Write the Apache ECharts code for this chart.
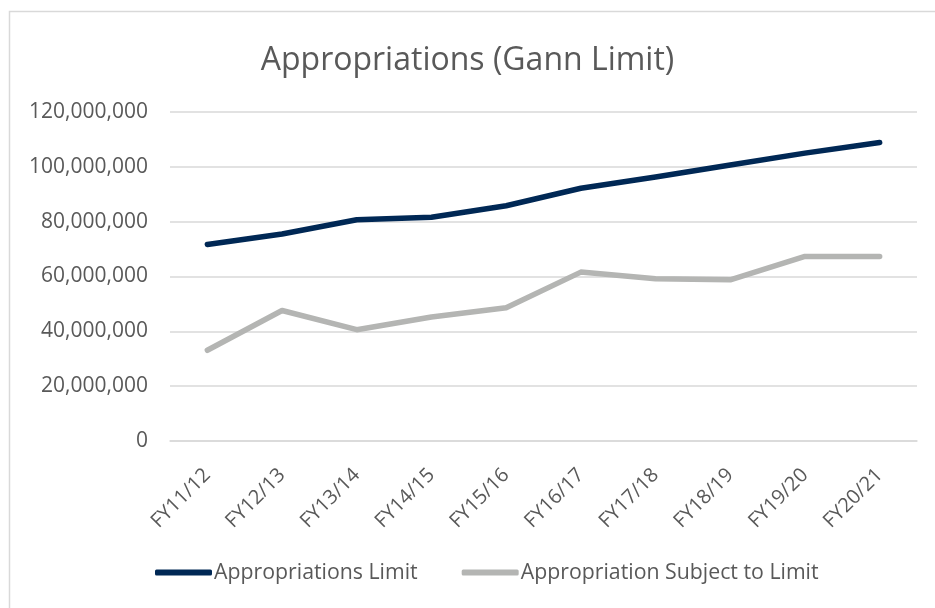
<!DOCTYPE html>
<html>
<head>
<meta charset="utf-8">
<title>Appropriations (Gann Limit)</title>
<script src="https://cdn.jsdelivr.net/npm/echarts@6/dist/echarts.min.js"></script>
<style>
  html, body { margin: 0; padding: 0; background: #fff; }
  #chart { width: 935px; height: 608px; }
</style>
</head>
<body>
<div id="chart"></div>
<script>
// fiscal years
const years = ['FY11/12', 'FY12/13', 'FY13/14', 'FY14/15', 'FY15/16',
  'FY16/17', 'FY17/18', 'FY18/19', 'FY19/20', 'FY20/21'];

// Appropriations Limit
const limitValues = [71700000, 75500000, 80700000, 81600000, 85800000,
  92200000, 96300000, 100700000, 105000000, 108900000];

// Appropriation Subject to Limit
const subjectValues = [33100000, 47600000, 40600000, 45200000, 48600000,
  61600000, 59200000, 58800000, 67300000, 67300000];

const font = '"Open Sans", "Noto Sans", sans-serif';
const textColor = '#595959';

const myChart = echarts.init(document.getElementById('chart'));
const option = {
  animation: false,
  // chart area border, like the excel frame
  graphic: [{
    type: 'rect',
    shape: { x: 9.5, y: 11.5, width: 1000, height: 700 },
    style: { fill: 'none', stroke: '#d9d9d9', lineWidth: 1.5 },
    silent: true,
  }],
  title: {
    text: 'Appropriations (Gann Limit)',
    left: 'center',
    top: 40,
    textStyle: { fontFamily: font, fontSize: 32, fontWeight: 'normal', color: textColor },
  },
  grid: {
    left: 170,
    right: 18,
    top: 112,
    bottom: 167,
  },
  legend: {
    bottom: 20,
    left: 150,
    itemWidth: 57,
    itemHeight: 6,
    itemGap: 44,
    icon: 'roundRect',
    textStyle: { fontFamily: font, fontSize: 21.3, color: textColor, padding: [0, 0, 0, -3] },
    data: ['Appropriations Limit', 'Appropriation Subject to Limit'],
  },
  xAxis: {
    type: 'category',
    data: years,
    boundaryGap: true,
    axisLine: { lineStyle: { color: '#d9d9d9', width: 1.5 } },
    axisTick: { show: false },
    axisLabel: {
      rotate: 45,
      interval: 0,
      margin: 31,
      padding: [18, 0, 0, 0],
      fontFamily: font,
      fontSize: 20,
      color: textColor,
    },
  },
  yAxis: {
    type: 'value',
    min: 0,
    max: 120000000,
    interval: 20000000,
    axisLine: { show: false },
    axisTick: { show: false },
    splitLine: { lineStyle: { color: '#d9d9d9', width: 1.5 } },
    axisLabel: {
      margin: 22,
      fontFamily: font,
      fontSize: 21,
      color: textColor,
      formatter: function(v) {
        return v.toLocaleString('en-US');
      },
    },
  },
  series: [
    {
      name: 'Appropriations Limit',
      type: 'line',
      data: limitValues,
      showSymbol: false,
      symbol: 'none',
      lineStyle: { color: '#002855', width: 5.5, cap: 'round', join: 'round' },
      itemStyle: { color: '#002855' },
    },
    {
      name: 'Appropriation Subject to Limit',
      type: 'line',
      data: subjectValues,
      showSymbol: false,
      symbol: 'none',
      lineStyle: { color: '#b4b5b3', width: 5.5, cap: 'round', join: 'round' },
      itemStyle: { color: '#b4b5b3' },
    },
  ],
};
myChart.setOption(option);
</script>
</body>
</html>
